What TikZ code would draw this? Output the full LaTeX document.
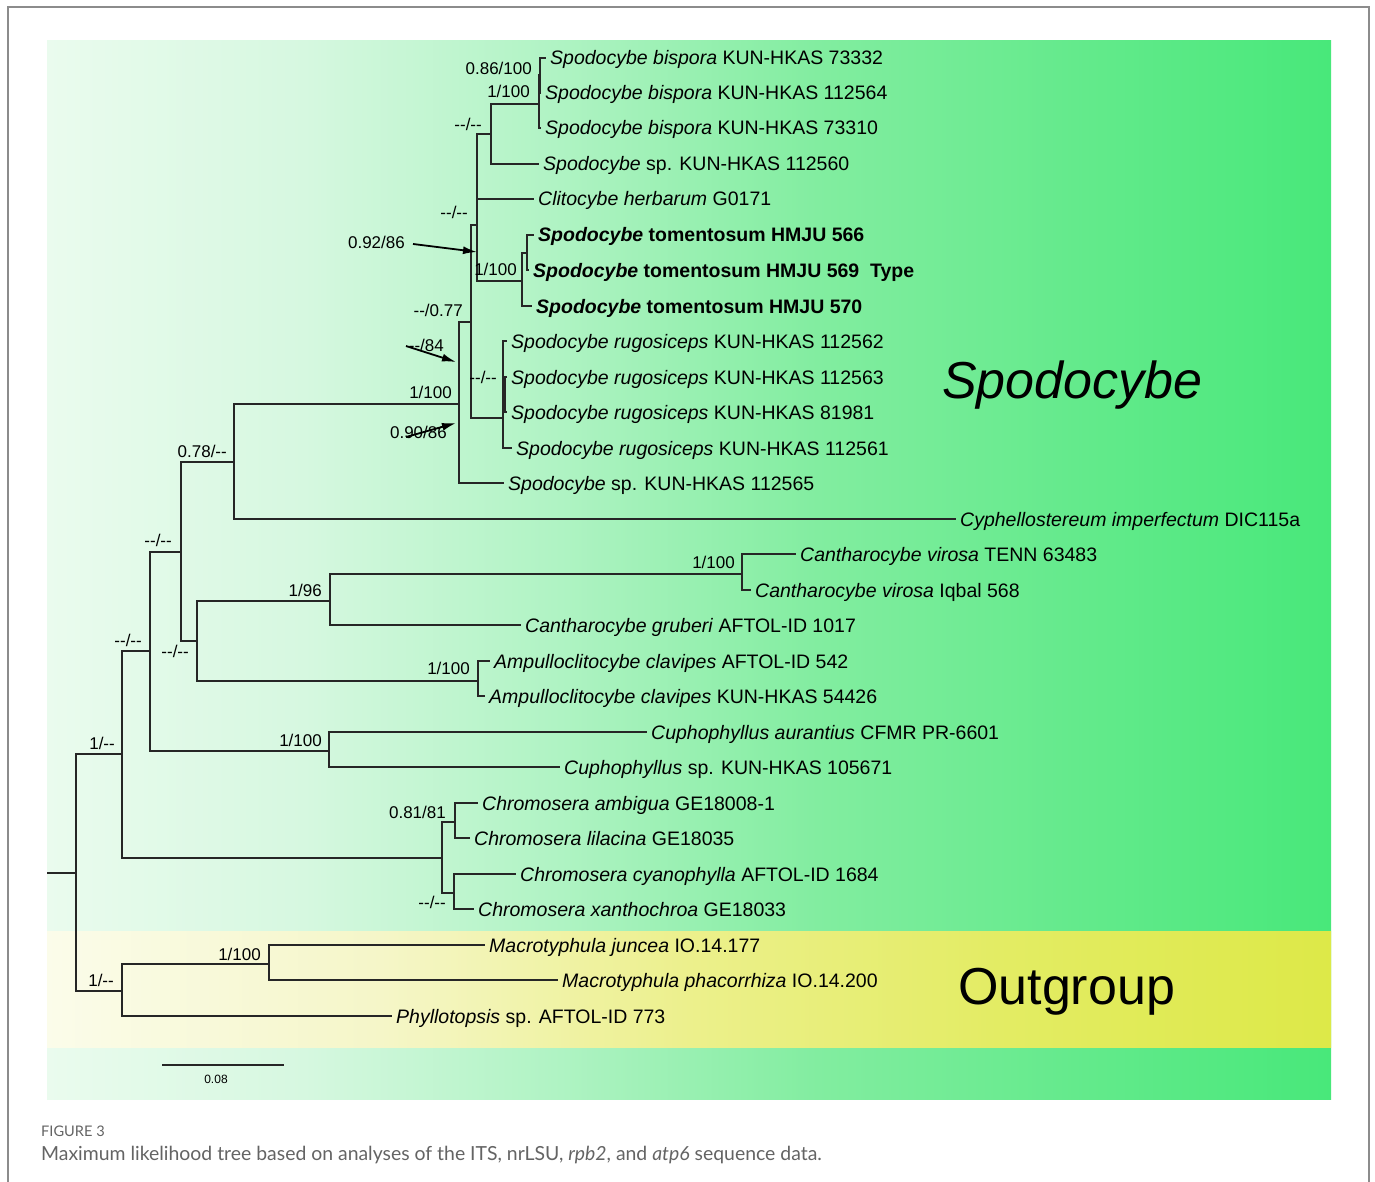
\documentclass[tikz,border=0pt]{standalone}
\usepackage{fontspec}
\setmainfont{Liberation Sans}
\newfontfamily\capfont{Lato}
\usetikzlibrary{arrows,arrows.meta}
\definecolor{framegray}{RGB}{140,140,140}
\definecolor{capgray}{RGB}{100,100,100}
\definecolor{gA}{RGB}{234,251,238}
\definecolor{gB}{RGB}{214,248,224}
\definecolor{gC}{RGB}{175,243,195}
\definecolor{gD}{RGB}{130,237,160}
\definecolor{gE}{RGB}{100,234,140}
\definecolor{gF}{RGB}{72,232,122}
\definecolor{yA}{RGB}{251,252,234}
\definecolor{yB}{RGB}{245,246,200}
\definecolor{yC}{RGB}{236,240,140}
\definecolor{yD}{RGB}{227,236,100}
\definecolor{yE}{RGB}{221,233,72}
\pgfdeclarehorizontalshading{ingroupfill}{100bp}{color(0bp)=(gA); color(25bp)=(gA); color(35bp)=(gB); color(45bp)=(gC); color(55bp)=(gD); color(65bp)=(gE); color(75bp)=(gF); color(100bp)=(gF)}
\pgfdeclarehorizontalshading{outgroupfill}{100bp}{color(0bp)=(yA); color(25bp)=(yA); color(38bp)=(yB); color(50bp)=(yC); color(62bp)=(yD); color(75bp)=(yE); color(100bp)=(yE)}
\newcommand{\tax}[2]{\textit{#1} #2}
\newcommand{\btax}[1]{\textbf{\textit{Spodocybe}} \textbf{tomentosum #1}}
\newcommand{\dd}{-{}-}

\begin{document}
\begin{tikzpicture}[x=1pt,y=-1pt]
\tikzstyle{leaf} = [anchor=west, inner xsep=4pt, inner ysep=0pt, text height=14pt, text depth=0pt, font=\fontsize{19.5}{20}\selectfont]
\tikzstyle{sup} = [anchor=base east, inner sep=0pt, font=\fontsize{17}{17}\selectfont]
\tikzstyle{br} = [line width=1.1pt, black!85]
\tikzstyle{pt} = [line width=1.8pt, -{Latex[length=14pt, width=8pt]}]
\useasboundingbox (0,0) rectangle (1375,1182);
\fill[white] (0,0) rectangle (1375,1182);
\shade[shading=ingroupfill] (47,41) rectangle (1331,1099);
\shade[shading=outgroupfill] (47,931) rectangle (1331,1047);
\draw[framegray, line width=1.5pt] (8,1182) -- (8,7) -- (1369,7) -- (1369,1182);

\coordinate (Root) at (47,873);
\coordinate (N0) at (76,873);
\coordinate (Ing) at (122,754);
\coordinate (Out) at (122,991);
\coordinate (Mac) at (269,964);
\coordinate (A) at (150,651);
\coordinate (Chr) at (442,858);
\coordinate (ChrU) at (455,822);
\coordinate (ChrL) at (454,893);
\coordinate (Cup) at (329,751);
\coordinate (B) at (181,552);
\coordinate (C) at (197,641);
\coordinate (Can) at (330,601);
\coordinate (Vir) at (742,574);
\coordinate (Amp) at (478,681);
\coordinate (D) at (234,462);
\coordinate (Spo) at (459,404);
\coordinate (E) at (471,322);
\coordinate (Rug) at (503,418);
\coordinate (RugI) at (505,395);
\coordinate (F) at (477,225);
\coordinate (Bis3) at (491,134);
\coordinate (Bis2) at (539,104);
\coordinate (Bis1) at (540,75);
\coordinate (Tom) at (522,281);
\coordinate (Tom1) at (527,253);

\node (bisA) [leaf] at (546,58) {\tax{Spodocybe bispora}{KUN-HKAS 73332}};
\node (bisB) [leaf] at (541,93) {\tax{Spodocybe bispora}{KUN-HKAS 112564}};
\node (bisC) [leaf] at (541,128) {\tax{Spodocybe bispora}{KUN-HKAS 73310}};
\node (spA) [leaf] at (539,164) {\tax{Spodocybe}{sp. KUN-HKAS 112560}};
\node (clit) [leaf] at (534,199) {\tax{Clitocybe herbarum}{G0171}};
\node (tomA) [leaf] at (534,235) {\btax{HMJU 566}};
\node (tomB) [leaf] at (529,270) {\btax{HMJU 569}\hspace{0.55em}\textbf{Type}};
\node (tomC) [leaf] at (532,306) {\btax{HMJU 570}};
\node (rugA) [leaf] at (507,341) {\tax{Spodocybe rugosiceps}{KUN-HKAS 112562}};
\node (rugB) [leaf] at (507,377) {\tax{Spodocybe rugosiceps}{KUN-HKAS 112563}};
\node (rugC) [leaf] at (507,412) {\tax{Spodocybe rugosiceps}{KUN-HKAS 81981}};
\node (rugD) [leaf] at (512,448) {\tax{Spodocybe rugosiceps}{KUN-HKAS 112561}};
\node (spB) [leaf] at (504,483) {\tax{Spodocybe}{sp. KUN-HKAS 112565}};
\node (cyph) [leaf] at (956,519) {\tax{Cyphellostereum imperfectum}{DIC115a}};
\node (virA) [leaf] at (796,554) {\tax{Cantharocybe virosa}{TENN 63483}};
\node (virB) [leaf] at (751,590) {\tax{Cantharocybe virosa}{Iqbal 568}};
\node (grub) [leaf] at (521,625) {\tax{Cantharocybe gruberi}{AFTOL-ID 1017}};
\node (ampA) [leaf] at (490,661) {\tax{Ampulloclitocybe clavipes}{AFTOL-ID 542}};
\node (ampB) [leaf] at (485,696) {\tax{Ampulloclitocybe clavipes}{KUN-HKAS 54426}};
\node (cupA) [leaf] at (647,732) {\tax{Cuphophyllus aurantius}{CFMR PR-6601}};
\node (cupB) [leaf] at (560,767) {\tax{Cuphophyllus}{sp. KUN-HKAS 105671}};
\node (chrA) [leaf] at (478,803) {\tax{Chromosera ambigua}{GE18008-1}};
\node (chrB) [leaf] at (470,838) {\tax{Chromosera lilacina}{GE18035}};
\node (chrC) [leaf] at (516,874) {\tax{Chromosera cyanophylla}{AFTOL-ID 1684}};
\node (chrD) [leaf] at (474,909) {\tax{Chromosera xanthochroa}{GE18033}};
\node (macA) [leaf] at (485,945) {\tax{Macrotyphula juncea}{IO.14.177}};
\node (macB) [leaf] at (558,980) {\tax{Macrotyphula phacorrhiza}{IO.14.200}};
\node (phyl) [leaf] at (392,1016) {\tax{Phyllotopsis}{sp. AFTOL-ID 773}};

\draw[br] (Root) -- (N0);
\draw[br] (N0) |- (Ing);
\draw[br] (N0) |- (Out);
\draw[br] (Ing) |- (A);
\draw[br] (Ing) |- (Chr);
\draw[br] (A) |- (B);
\draw[br] (A) |- (Cup);
\draw[br] (B) |- (D);
\draw[br] (B) |- (C);
\draw[br] (D) |- (Spo);
\draw[br] (D) |- (cyph.west);
\draw[br] (Spo) |- (E);
\draw[br] (Spo) |- (spB.west);
\draw[br] (E) |- (F);
\draw[br] (E) |- (Rug);
\draw[br] (F) |- (Bis3);
\draw[br] (F) |- (clit.west);
\draw[br] (F) |- (Tom);
\draw[br] (Bis3) |- (Bis2);
\draw[br] (Bis3) |- (spA.west);
\draw[br] (Bis2) |- (Bis1);
\draw[br] (Bis2) |- (bisC.west);
\draw[br] (Bis1) |- (bisA.west);
\draw[br] (Bis1) |- (bisB.west);
\draw[br] (Tom) |- (Tom1);
\draw[br] (Tom) |- (tomC.west);
\draw[br] (Tom1) |- (tomA.west);
\draw[br] (Tom1) |- (tomB.west);
\draw[br] (Rug) |- (rugA.west);
\draw[br] (Rug) |- (RugI);
\draw[br] (Rug) |- (rugD.west);
\draw[br] (RugI) |- (rugB.west);
\draw[br] (RugI) |- (rugC.west);
\draw[br] (C) |- (Can);
\draw[br] (C) |- (Amp);
\draw[br] (Can) |- (Vir);
\draw[br] (Can) |- (grub.west);
\draw[br] (Vir) |- (virA.west);
\draw[br] (Vir) |- (virB.west);
\draw[br] (Amp) |- (ampA.west);
\draw[br] (Amp) |- (ampB.west);
\draw[br] (Cup) |- (cupA.west);
\draw[br] (Cup) |- (cupB.west);
\draw[br] (Chr) |- (ChrU);
\draw[br] (Chr) |- (ChrL);
\draw[br] (ChrU) |- (chrA.west);
\draw[br] (ChrU) |- (chrB.west);
\draw[br] (ChrL) |- (chrC.west);
\draw[br] (ChrL) |- (chrD.west);
\draw[br] (Out) |- (Mac);
\draw[br] (Out) |- (phyl.west);
\draw[br] (Mac) |- (macA.west);
\draw[br] (Mac) |- (macB.west);

\node (sBis1) [sup] at (532,75) {0.86/100};
\node (sBis2) [sup] at (530,98) {1/100};
\node (sBis3) [sup] at (482,131) {\dd/\dd};
\node (sF) [sup] at (468,219) {\dd/\dd};
\node (sTom) [sup] at (517,276) {1/100};
\node (sE) [sup] at (463,316) {\dd/0.77};
\node (sRug) [sup] at (497,383) {\dd/\dd};
\node (sSpo) [sup] at (452,398) {1/100};
\node (sD) [sup] at (227,457) {0.78/\dd};
\node (sB) [sup] at (172,546) {\dd/\dd};
\node (sC) [sup] at (189,657) {\dd/\dd};
\node (sCan) [sup] at (322,596) {1/96};
\node (sVir) [sup] at (735,568) {1/100};
\node (sAmp) [sup] at (470,674) {1/100};
\node (sA) [sup] at (142,646) {\dd/\dd};
\node (sIng) [sup] at (115,749) {1/\dd};
\node (sCup) [sup] at (322,746) {1/100};
\node (sChrU) [sup] at (446,818) {0.81/81};
\node (sChrL) [sup] at (446,908) {\dd/\dd};
\node (sMac) [sup] at (261,960) {1/100};
\node (sOut) [sup] at (114,986) {1/\dd};

\node (s92) [sup] at (405,249) {0.92/86};
\node (s84) [sup] at (444,351) {\dd/84};
\node (s90) [sup] at (447,438) {0.90/86};
\coordinate (a92) at (413,244);
\coordinate (t92) at (477,252);
\coordinate (a84) at (406,346);
\coordinate (t84) at (456,362);
\coordinate (a90) at (406,437);
\coordinate (t90) at (456,423);
\draw[pt] (a92) -- (t92);
\draw[pt] (a84) -- (t84);
\draw[pt] (a90) -- (t90);

\node (spo) [anchor=base west, inner sep=0pt, font=\fontsize{52}{52}\selectfont\itshape] at (942,398) {Spodocybe};
\node (out) [anchor=base west, inner sep=0pt, font=\fontsize{52}{52}\selectfont] at (958,1004) {Outgroup};

\coordinate (barL) at (162,1065);
\coordinate (barR) at (284,1065);
\draw[br] (barL) -- (barR);
\node (bar) [font=\fontsize{12}{12}\selectfont] at (216,1079) {0.08};

\node (fig) [anchor=base west, inner sep=0pt, text=capgray, font=\capfont\fontsize{14.6}{15}\selectfont] at (41,1136) {FIGURE 3};
\node (cap) [anchor=base west, inner sep=0pt, text=capgray, font=\capfont\fontsize{19.4}{20}\selectfont] at (41,1160) {Maximum likelihood tree based on analyses of the ITS, nrLSU, \textit{rpb2}, and \textit{atp6} sequence data.};
\end{tikzpicture}
\end{document}
